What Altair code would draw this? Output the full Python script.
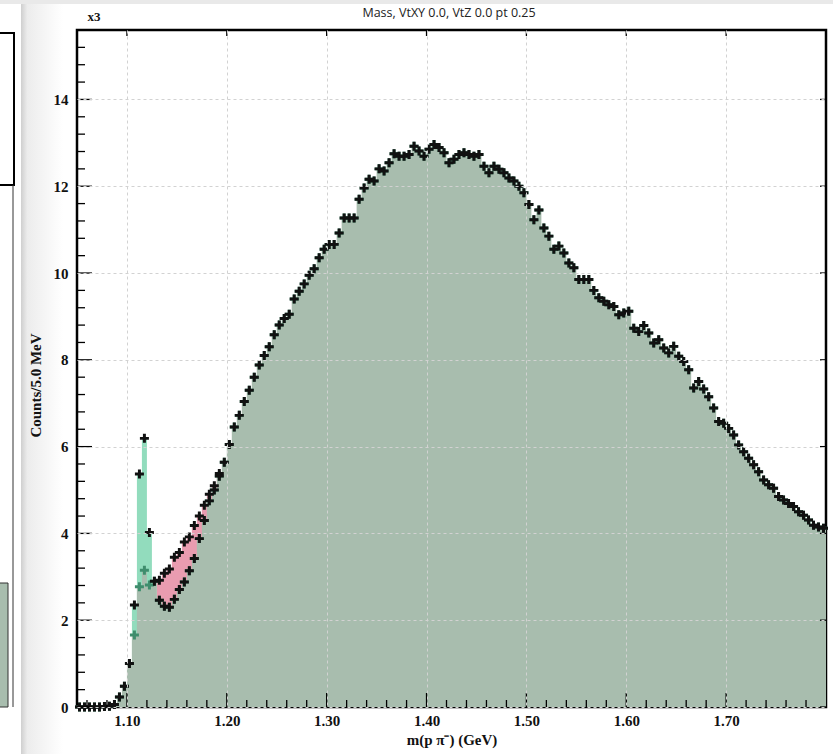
import altair as alt
import numpy as np
import pandas as pd

# ---------------- data ----------------
X_MIN, X_MAX = 1.05, 1.80
BIN_W = 0.005
Y_MAX = 15.6

# main (grey-green) histogram, counts per 5 MeV bin starting at 1.05 GeV
gray = [
    0, 0, 0, 0, 0, 0.01, 0.02, 0.06, 0.23, 0.48,
    1.0, 1.66, 2.77, 3.15, 2.81, 2.9, 2.46, 2.32, 2.30, 2.48,
    2.71, 2.88, 3.14, 3.42, 3.88, 4.30, 4.75, 5.0, 5.32, 5.64,
    6.05, 6.45, 6.72, 7.04, 7.30, 7.60, 7.88, 8.10, 8.30, 8.58,
    8.80, 8.95, 9.05, 9.40, 9.58, 9.75, 9.95, 10.10, 10.35, 10.55,
    10.66, 10.66, 10.92, 11.27, 11.27, 11.27, 11.70, 11.96, 12.16, 12.12,
    12.40, 12.35, 12.54, 12.75, 12.69, 12.69, 12.73, 12.92, 12.81, 12.69,
    12.85, 12.96, 12.89, 12.77, 12.54, 12.62, 12.73, 12.77, 12.73, 12.69,
    12.73, 12.46, 12.31, 12.46, 12.39, 12.31, 12.19, 12.12, 12.00, 11.85,
    11.58, 11.23, 11.45, 11.04, 10.85, 10.55, 10.62, 10.46, 10.23, 10.12,
    9.85, 9.85, 9.85, 9.60, 9.43, 9.35, 9.27, 9.23, 9.04, 9.08,
    9.12, 8.73, 8.65, 8.79, 8.62, 8.39, 8.46, 8.27, 8.16, 8.31,
    8.08, 7.96, 7.77, 7.35, 7.50, 7.33, 7.15, 6.89, 6.58, 6.54,
    6.42, 6.27, 6.04, 5.88, 5.73, 5.58, 5.42, 5.23, 5.12, 5.04,
    4.85, 4.77, 4.69, 4.62, 4.50, 4.42, 4.31, 4.19, 4.15, 4.12,
]

# Lambda peak (mint) histogram, bins 11..14
MINT_START = 11
mint = [2.35, 5.37, 6.19, 4.02]

# pink histogram, bins 16..28
PINK_START = 16
pink = [2.92, 3.08, 3.18, 3.45, 3.56, 3.80, 3.92, 4.18, 4.40, 4.65, 4.90, 5.10, 5.38]

x_major = [1.10, 1.20, 1.30, 1.40, 1.50, 1.60, 1.70]
y_major = [0, 2, 4, 6, 8, 10, 12, 14]

TITLE = "Mass, VtXY 0.0, VtZ 0.0 pt 0.25"
X_TITLE = "m(p \u03c0\u207b) (GeV)"
Y_TITLE = "Counts/5.0 MeV"

# ---------------- frames ----------------
n = len(gray)
edges = X_MIN + BIN_W * np.arange(n + 1)
centers = edges[:-1] + BIN_W / 2

gray_df = pd.DataFrame({"x": edges, "y": gray + [gray[-1]]})
mint_df = pd.DataFrame({"x": edges[MINT_START:MINT_START + len(mint) + 1],
                        "y": mint + [mint[-1]]})
pink_df = pd.DataFrame({"x": edges[PINK_START:PINK_START + len(pink) + 1],
                        "y": pink + [pink[-1]]})

top = list(gray)
for i, v in enumerate(mint):
    top[MINT_START + i] = v
for i, v in enumerate(pink):
    top[PINK_START + i] = v

black_df = pd.concat([
    pd.DataFrame({"x": centers, "y": top}),
    pd.DataFrame({"x": centers[PINK_START:PINK_START + len(pink)],
                  "y": gray[PINK_START:PINK_START + len(pink)]}),
])
green_df = pd.DataFrame({"x": centers, "y": gray})

x_minor = [round(v, 2) for v in np.arange(1.06, 1.80, 0.02) if abs(v * 10 - round(v * 10)) > 1e-6]
y_minor = [round(v, 1) for v in np.arange(0.4, 15.6, 0.4) if abs(v / 2 - round(v / 2)) > 1e-6]

# ---------------- layout ----------------
W, H = 749, 677
PAD_L, PAD_T = 77, 30
SERIF = "Liberation Serif"

xscale = alt.Scale(domain=[X_MIN, X_MAX], nice=False, zero=False)
yscale = alt.Scale(domain=[0, Y_MAX], nice=False, zero=False)

x_axis = alt.Axis(values=x_major, format=".2f", title=X_TITLE, ticks=False, domain=False,
                  grid=True, gridDash=[3, 3], gridColor="#d2d2d2", gridWidth=1,
                  labelFont=SERIF, labelFontWeight="bold", labelFontSize=15, labelColor="#111",
                  labelPadding=6, titleFont=SERIF, titleFontWeight="bold", titleFontSize=15,
                  titleColor="#111", titlePadding=4, zindex=1)
y_axis = alt.Axis(values=y_major, format="d", title=Y_TITLE, ticks=False, domain=False,
                  grid=True, gridDash=[3, 3], gridColor="#d2d2d2", gridWidth=1,
                  labelFont=SERIF, labelFontWeight="bold", labelFontSize=15, labelColor="#111",
                  labelPadding=9, titleFont=SERIF, titleFontWeight="bold", titleFontSize=15,
                  titleColor="#111", titlePadding=10, titleY=355, zindex=1)

X = lambda: alt.X("x:Q", scale=xscale, axis=x_axis)
Y = lambda: alt.Y("y:Q", scale=yscale, axis=y_axis)

one = pd.DataFrame({"a": [0]})

# decorations of the screenshot (window shading, neighbouring pad)
shade = alt.Chart(one).mark_rect(
    color=alt.Gradient(gradient="linear",
                       stops=[alt.GradientStop(color="#cfcfcf", offset=0),
                              alt.GradientStop(color="#ececec", offset=0.15),
                              alt.GradientStop(color="#ffffff", offset=1)],
                       x1=0, x2=1, y1=0, y2=0)
).encode(x=alt.value(-56), x2=alt.value(-14), y=alt.value(-30), y2=alt.value(H + 47))
topbar = alt.Chart(one).mark_rect(color="#e9e9e9").encode(
    x=alt.value(-PAD_L), x2=alt.value(W + 7), y=alt.value(-30), y2=alt.value(-26))
left_box = alt.Chart(one).mark_rect(fill="white", stroke="black", strokeWidth=2).encode(
    x=alt.value(-90), x2=alt.value(-63), y=alt.value(3), y2=alt.value(155))
left_line = alt.Chart(one).mark_rule(color="#333", strokeWidth=1).encode(
    x=alt.value(-64), y=alt.value(155), y2=alt.value(H))
left_fill = alt.Chart(one).mark_rect(fill="#a8bdae", stroke="#333", strokeWidth=1).encode(
    x=alt.value(-90), x2=alt.value(-69), y=alt.value(553), y2=alt.value(H))

mint_area = alt.Chart(mint_df).mark_area(interpolate="step-after", color="#92dcbd").encode(
    x=X(), y=Y())
pink_area = alt.Chart(pink_df).mark_area(interpolate="step-after", color="#e99cb0").encode(
    x=X(), y=Y())
gray_area = alt.Chart(gray_df).mark_area(interpolate="step-after", color="#a8bdae").encode(
    x=X(), y=Y())

CROSS = "M-1,-0.33H-0.33V-1H0.33V-0.33H1V0.33H0.33V1H-0.33V0.33H-1Z"
green_pts = alt.Chart(green_df).mark_point(shape=CROSS, filled=True, size=81, color="#3f8d6d",
                                           opacity=1).encode(x=X(), y=Y())
black_pts = alt.Chart(black_df).mark_point(shape=CROSS, filled=True, size=81, color="#111111",
                                           opacity=1).encode(x=X(), y=Y())

# inward ticks (ROOT style)
def yticks(vals, x0, x1):
    return alt.Chart(pd.DataFrame({"y": vals})).mark_rule(color="black", strokeWidth=1.3).encode(
        y=Y(), x=alt.value(x0), x2=alt.value(x1))

def xticks(vals, y0, y1):
    return alt.Chart(pd.DataFrame({"x": vals})).mark_rule(color="black", strokeWidth=1.3).encode(
        x=X(), y=alt.value(y0), y2=alt.value(y1))

ticks = [
    yticks(y_major, 0, 15), yticks(y_minor, 0, 8), yticks(y_major, W - 6, W),
    xticks(x_major, H, H - 14), xticks(x_minor, H, H - 7), xticks(x_major, 0, 6),
]

title = alt.Chart(one).mark_text(text=TITLE, font="Open Sans", fontSize=12.5, color="#222",
                                 align="center", baseline="middle").encode(
    x=alt.value(372), y=alt.value(-17))
x3 = alt.Chart(one).mark_text(text="x3", font=SERIF, fontWeight="bold", fontSize=13,
                              color="#111", align="center", baseline="middle").encode(
    x=alt.value(17), y=alt.value(-13))

chart = alt.layer(
    shade, topbar, left_box, left_line, left_fill,
    mint_area, pink_area, gray_area, green_pts, black_pts, *ticks, title, x3,
).properties(
    width=W, height=H,
    padding={"left": PAD_L, "top": PAD_T, "right": 833 - PAD_L - W, "bottom": 754 - PAD_T - H},
    autosize=alt.AutoSizeParams(type="none"),
    background="white",
).configure_view(stroke="black", strokeWidth=2.5)

chart.save("out.html", embed_options={"renderer": "svg", "actions": False})
